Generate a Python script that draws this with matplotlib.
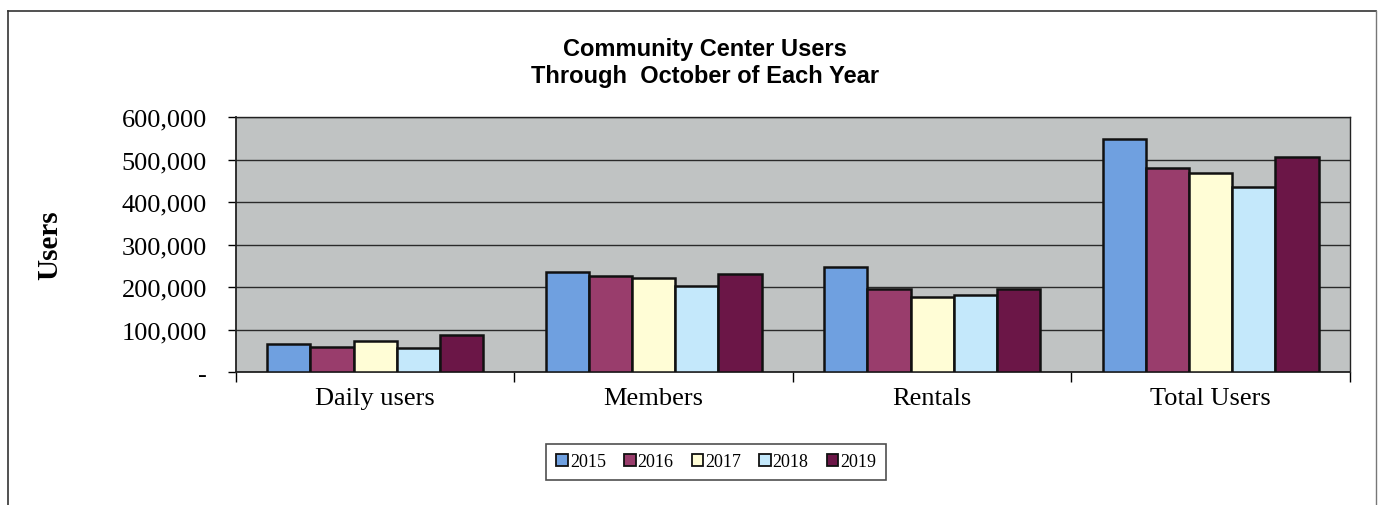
import numpy as np
import matplotlib
matplotlib.use("Agg")
import matplotlib.pyplot as plt
from matplotlib.lines import Line2D
from matplotlib.ticker import FuncFormatter, FixedLocator

categories = ["Daily users", "Members", "Rentals", "Total Users"]
years = ["2015", "2016", "2017", "2018", "2019"]
users_2015 = [66000, 236000, 247000, 548000]
users_2016 = [59000, 226000, 196000, 479000]
users_2017 = [74000, 221000, 176000, 468000]
users_2018 = [56000, 203000, 181000, 435000]
users_2019 = [87000, 230000, 195000, 506000]
series = [users_2015, users_2016, users_2017, users_2018, users_2019]
colors = ["#6fa0e0", "#993d6c", "#fffdd6", "#c4e8fb", "#6b1647"]

serif = ["Liberation Serif", "DejaVu Serif"]
sans = ["Liberation Sans", "DejaVu Sans"]

fig = plt.figure(figsize=(13.88, 5.06), dpi=100)
ax = fig.add_axes([0.170, 0.2628, 0.8026, 0.504])
ax.set_facecolor("#c0c3c3")

x = np.arange(len(categories))
bar_w = 0.155
for i, (vals, col) in enumerate(zip(series, colors)):
    ax.bar(x + (i - 2) * bar_w, vals, width=bar_w, color=col,
           edgecolor="#111111", linewidth=1.8, label=years[i], zorder=3)

ax.set_xlim(-0.5, len(categories) - 0.5)
ax.set_ylim(0, 600000)
ax.set_yticks(np.arange(0, 600001, 100000))
ax.yaxis.set_major_formatter(FuncFormatter(lambda v, p: "-" if v == 0 else f"{int(v):,}"))
ax.grid(axis="y", color="#2a2a2a", linewidth=1.0, zorder=1)

ax.set_xticks(x)
ax.set_xticklabels(categories, fontsize=19, family=serif)
ax.xaxis.set_minor_locator(FixedLocator(np.arange(-0.5, len(categories), 1.0)))
ax.tick_params(axis="x", which="major", length=0, pad=11)
ax.tick_params(axis="x", which="minor", length=7, width=1.0, direction="out")
ax.tick_params(axis="y", length=6, width=1.0, direction="out", pad=15)
for lbl in ax.get_yticklabels():
    lbl.set_fontfamily(serif)
    lbl.set_fontsize(19)

for s in ax.spines.values():
    s.set_color("#222222")
    s.set_linewidth(1.0)
ax.spines["left"].set_linewidth(1.3)
ax.spines["bottom"].set_linewidth(1.3)

fig.text(0.0355, 0.515, "Users", rotation=90, ha="center", va="center",
         fontsize=21, fontweight="bold", family=serif)

fig.text(0.508, 0.876, "Community Center Users\nThrough  October of Each Year",
         ha="center", va="center", fontsize=17, fontweight="bold",
         family=sans, linespacing=1.2)

leg = fig.legend(loc="center", bbox_to_anchor=(0.516, 0.085), ncol=5,
                 prop={"family": serif, "size": 13}, frameon=True, fancybox=False,
                 handlelength=0.65, handleheight=0.65, handletextpad=0.1,
                 columnspacing=1.0, borderpad=0.55)
leg.get_frame().set_edgecolor("#222222")
leg.get_frame().set_linewidth(1.2)
for h in leg.legend_handles:
    h.set_linewidth(1.3)

# outer chart frame
fw, fh = 1388, 506
fx0, fx1, fy0 = 8 / fw, 1376 / fw, 1 - 12 / fh
fig.add_artist(Line2D([fx0, fx0], [0, fy0], color="#333333", lw=1.2, transform=fig.transFigure))
fig.add_artist(Line2D([fx0, fx1], [fy0, fy0], color="#333333", lw=1.2, transform=fig.transFigure))
fig.add_artist(Line2D([fx1, fx1], [0, fy0], color="#777777", lw=1.0, transform=fig.transFigure))

fig.savefig("out.png", dpi=100)
